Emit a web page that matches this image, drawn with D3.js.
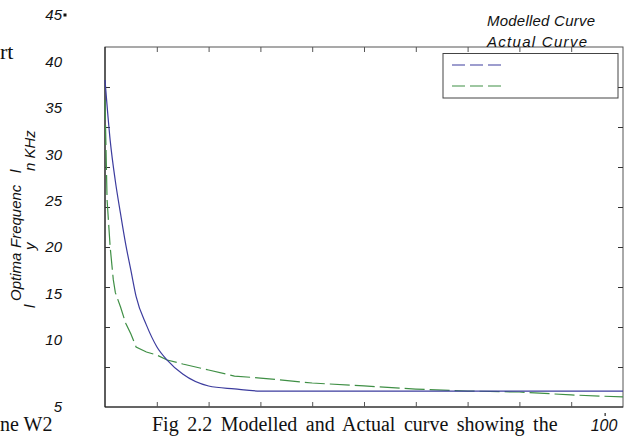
<!DOCTYPE html>
<html>
<head>
<meta charset="utf-8">
<script src="https://cdn.jsdelivr.net/npm/d3@7"></script>
<style>
  body { margin: 0; background: #fff; }
  svg { display: block; }
</style>
</head>
<body>
<div id="canvas"></div>
<script>
// data
const modelledX = [0, 1, 2, 3, 4, 5, 6, 8, 10, 12, 15, 20, 25, 30, 40, 50, 60, 70, 80, 90, 100];
const modelledY = [38.0, 31.5, 27.1, 23.6, 20.3, 17.5, 14.7, 11.6, 9.5, 8.5, 7.46, 6.57, 6.35, 6.19, 6.19, 6.19, 6.19, 6.19, 6.19, 6.19, 6.19];

const actualX = [0, 0.4, 1, 1.6, 2, 3, 4, 5, 6, 8, 10, 12, 15, 20, 25, 30, 40, 50, 60, 70, 80, 90, 100];
const actualY = [35.85, 25.1, 20.0, 16.5, 15.1, 13.55, 11.8, 10.65, 9.48, 9.1, 8.88, 8.51, 8.21, 7.76, 7.31, 7.16, 6.79, 6.57, 6.34, 6.19, 6.12, 5.9, 5.75];

const yTickLabels = [5, 10, 15, 20, 25, 30, 35, 40, 45];
const xTickLabels = [100];
const legendNames = ["Modelled Curve", "Actual Curve"];

// dimensions
const width = 625;
const height = 436;
const plot = {left: 105, right: 623, top: 47, bottom: 407};

const blue = "#3c3c9e";
const green = "#3f8f45";
const sans = "'Liberation Sans', Arial, sans-serif";
const serif = "'Liberation Serif', 'Times New Roman', serif";

var svg = d3.select("#canvas").append("svg")
    .attr("width", width)
    .attr("height", height);

// scales (the printed labels are not evenly spread, so y is piecewise)
var x = d3.scaleLinear().domain([0, 100]).range([plot.left, plot.right]);
var y = d3.scaleLinear().domain([5, 10, 45]).range([407, 340, 15]);
var xLabel = d3.scaleLinear().domain([0, 100]).range([plot.left, 604]);
// frame tick marks: 9 equal steps on the box
var yFrame = d3.scaleLinear().domain([0, 9]).range([plot.bottom, plot.top]);

// frame
var frame = svg.append("g").attr("stroke", "#444").attr("fill", "none");
frame.append("rect")
    .attr("x", plot.left).attr("y", plot.top)
    .attr("width", plot.right - plot.left).attr("height", plot.bottom - plot.top)
    .attr("stroke", "#555");
frame.append("line")
    .attr("x1", plot.left).attr("x2", plot.left)
    .attr("y1", plot.top).attr("y2", plot.bottom)
    .attr("stroke", "#111");
frame.append("line")
    .attr("x1", plot.left).attr("x2", plot.right)
    .attr("y1", plot.bottom).attr("y2", plot.bottom)
    .attr("stroke", "#222");

// tick marks, pointing inward, no labels
function ticksOnly(axis) {
    return axis.tickSize(-5).tickSizeOuter(0).tickFormat("");
}
var xTickVals = d3.range(10, 100, 10);
var yTickVals = d3.range(1, 9);
[["bottom", plot.bottom], ["top", plot.top]].forEach(function(p) {
    var ax = p[0] === "bottom" ? d3.axisBottom(x) : d3.axisTop(x);
    svg.append("g")
        .attr("transform", `translate(0, ${p[1]})`)
        .call(ticksOnly(ax).tickValues(xTickVals))
        .call(g => g.select(".domain").remove())
        .selectAll("line").attr("stroke", "#555");
});
[["left", plot.left], ["right", plot.right]].forEach(function(p) {
    var ax = p[0] === "left" ? d3.axisLeft(yFrame) : d3.axisRight(yFrame);
    svg.append("g")
        .attr("transform", `translate(${p[1]}, 0)`)
        .call(ticksOnly(ax).tickValues(yTickVals))
        .call(g => g.select(".domain").remove())
        .selectAll("line").attr("stroke", "#333");
});

// y tick labels
svg.append("g")
    .selectAll("text")
    .data(yTickLabels)
    .join("text")
    .attr("x", 62)
    .attr("y", d => y(d))
    .attr("dy", "0.35em")
    .attr("text-anchor", "end")
    .attr("font-family", sans)
    .attr("font-style", "italic")
    .attr("font-size", 15)
    .attr("fill", "#111")
    .text(d => d);
svg.append("rect")
    .attr("x", 63.5).attr("y", y(45) - 1.5)
    .attr("width", 3).attr("height", 3)
    .attr("fill", "#111");

// x tick label
var xl = svg.append("g").selectAll("g").data(xTickLabels).join("g");
xl.append("rect")
    .attr("x", d => xLabel(d) + 0.5).attr("y", 413)
    .attr("width", 1.3).attr("height", 3)
    .attr("fill", "#333");
xl.append("text")
    .attr("x", d => xLabel(d))
    .attr("y", 431)
    .attr("text-anchor", "middle")
    .attr("font-family", sans)
    .attr("font-style", "italic")
    .attr("font-size", 16)
    .attr("fill", "#111")
    .text(d => d);

// y axis title, broken into pieces as printed
var titleParts = [
    {t: "Optima", bx: 21, by: 301},
    {t: "Frequenc", bx: 21, by: 248},
    {t: "l", bx: 21, by: 173},
    {t: "l", bx: 35, by: 308},
    {t: "y", bx: 35, by: 250},
    {t: "n KHz", bx: 35, by: 171}
];
svg.append("g")
    .selectAll("text")
    .data(titleParts)
    .join("text")
    .attr("transform", d => `translate(${d.bx}, ${d.by}) rotate(-90)`)
    .attr("font-family", sans)
    .attr("font-style", "italic")
    .attr("font-size", 15)
    .attr("fill", "#111")
    .text(d => d.t);

// curves
var line = d3.line()
    .x(d => x(d[0]))
    .y(d => y(d[1]));

svg.append("path")
    .datum(d3.zip(actualX, actualY))
    .attr("fill", "none")
    .attr("stroke", green)
    .attr("stroke-width", 1.2)
    .attr("stroke-dasharray", "20,5")
    .attr("d", line);

svg.append("path")
    .datum(d3.zip(modelledX, modelledY))
    .attr("fill", "none")
    .attr("stroke", blue)
    .attr("stroke-width", 1.2)
    .attr("d", line.curve(d3.curveMonotoneX));

// legend
var legend = svg.append("g");
legend.append("rect")
    .attr("x", 443).attr("y", 53.5)
    .attr("width", 175).attr("height", 44.5)
    .attr("fill", "#fff")
    .attr("stroke", "#444");
legend.selectAll("line")
    .data([blue, green])
    .join("line")
    .attr("x1", 452).attr("x2", 502)
    .attr("y1", (d, i) => 65 + i * 21)
    .attr("y2", (d, i) => 65 + i * 21)
    .attr("stroke", d => d)
    .attr("stroke-width", 1.2)
    .attr("stroke-dasharray", "13,5");
legend.selectAll("text")
    .data(legendNames)
    .join("text")
    .attr("x", 487)
    .attr("y", (d, i) => 26 + i * 21)
    .attr("font-family", sans)
    .attr("font-style", "italic")
    .attr("font-size", 15)
    .attr("textLength", (d, i) => i === 0 ? 108 : 100)
    .attr("lengthAdjust", "spacing")
    .attr("fill", "#111")
    .text(d => d);

// surrounding page text
svg.append("text")
    .attr("x", 0).attr("y", 59)
    .attr("font-family", serif).attr("font-size", 22).attr("fill", "#111")
    .text("rt");
svg.append("text")
    .attr("x", 0).attr("y", 431)
    .attr("font-family", serif).attr("font-size", 20).attr("fill", "#111")
    .text("ne W2");
svg.append("text")
    .attr("x", 152).attr("y", 431)
    .attr("font-family", serif).attr("font-size", 20).attr("fill", "#111")
    .attr("word-spacing", 3.5)
    .text("Fig 2.2 Modelled and Actual curve showing the");
</script>
</body>
</html>
